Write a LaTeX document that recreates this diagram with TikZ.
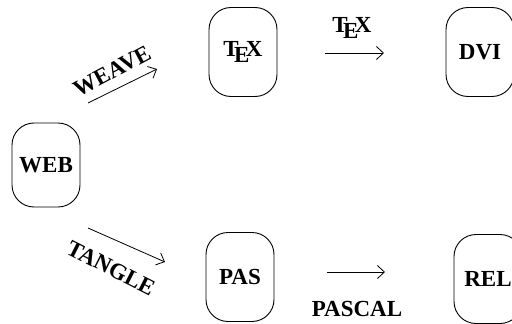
\documentclass[tikz,border=0pt]{standalone}
\usepackage{fontspec}
\setmainfont{Liberation Serif}
\usetikzlibrary{arrows.meta}
% tighter TeX logo, E set lower
\newcommand{\texlogo}{T\kern-.2em\lower.55ex\hbox{E}\kern-.16emX}
\begin{document}
\begin{tikzpicture}[x=1pt,y=-1pt,
  box/.style={draw, line width=0.9pt, rounded corners=22pt,
    minimum width=68pt, minimum height=89pt, inner sep=0pt,
    font=\fontsize{23}{25}\selectfont\bfseries},
  flow/.style={draw, line width=0.8pt,
    -{Straight Barb[length=7pt,width=13pt,line width=0.8pt]}},
  lbl/.style={inner sep=0pt, font=\fontsize{23}{25}\selectfont\bfseries}]
\useasboundingbox (0,0) rectangle (512,324);

% files
\node[box, minimum width=68pt, minimum height=84pt] (web) at (46,165) {WEB};
\node[box] (tex) at (243,52) {\texlogo};
\node[box] (dvi) at (480,52) {DVI};
\node[box] (pas) at (240,277) {PAS};
\node[box] (rel) at (488,279) {REL};

% arrow end points
\coordinate (w1) at (88,103);
\coordinate (w2) at (157,69);
\coordinate (t1) at (88,228);
\coordinate (t2) at (165,262);
\coordinate (x1) at (325,53);
\coordinate (x2) at (384,53);
\coordinate (p1) at (327,272);
\coordinate (p2) at (385,272);

\draw[flow] (w1) -- (w2);
\draw[flow] (t1) -- (t2);
\draw[flow] (x1) -- (x2);
\draw[flow] (p1) -- (p2);

% program labels
\node[lbl, rotate=28] (weave) at (112,71) {WEAVE};
\node[lbl, rotate=-27] (tangle) at (111,268) {TANGLE};
\node[lbl] (texlbl) at (352,28) {\texlogo};
\node[lbl] (pascal) at (357,309) {PASCAL};
\end{tikzpicture}
\end{document}
